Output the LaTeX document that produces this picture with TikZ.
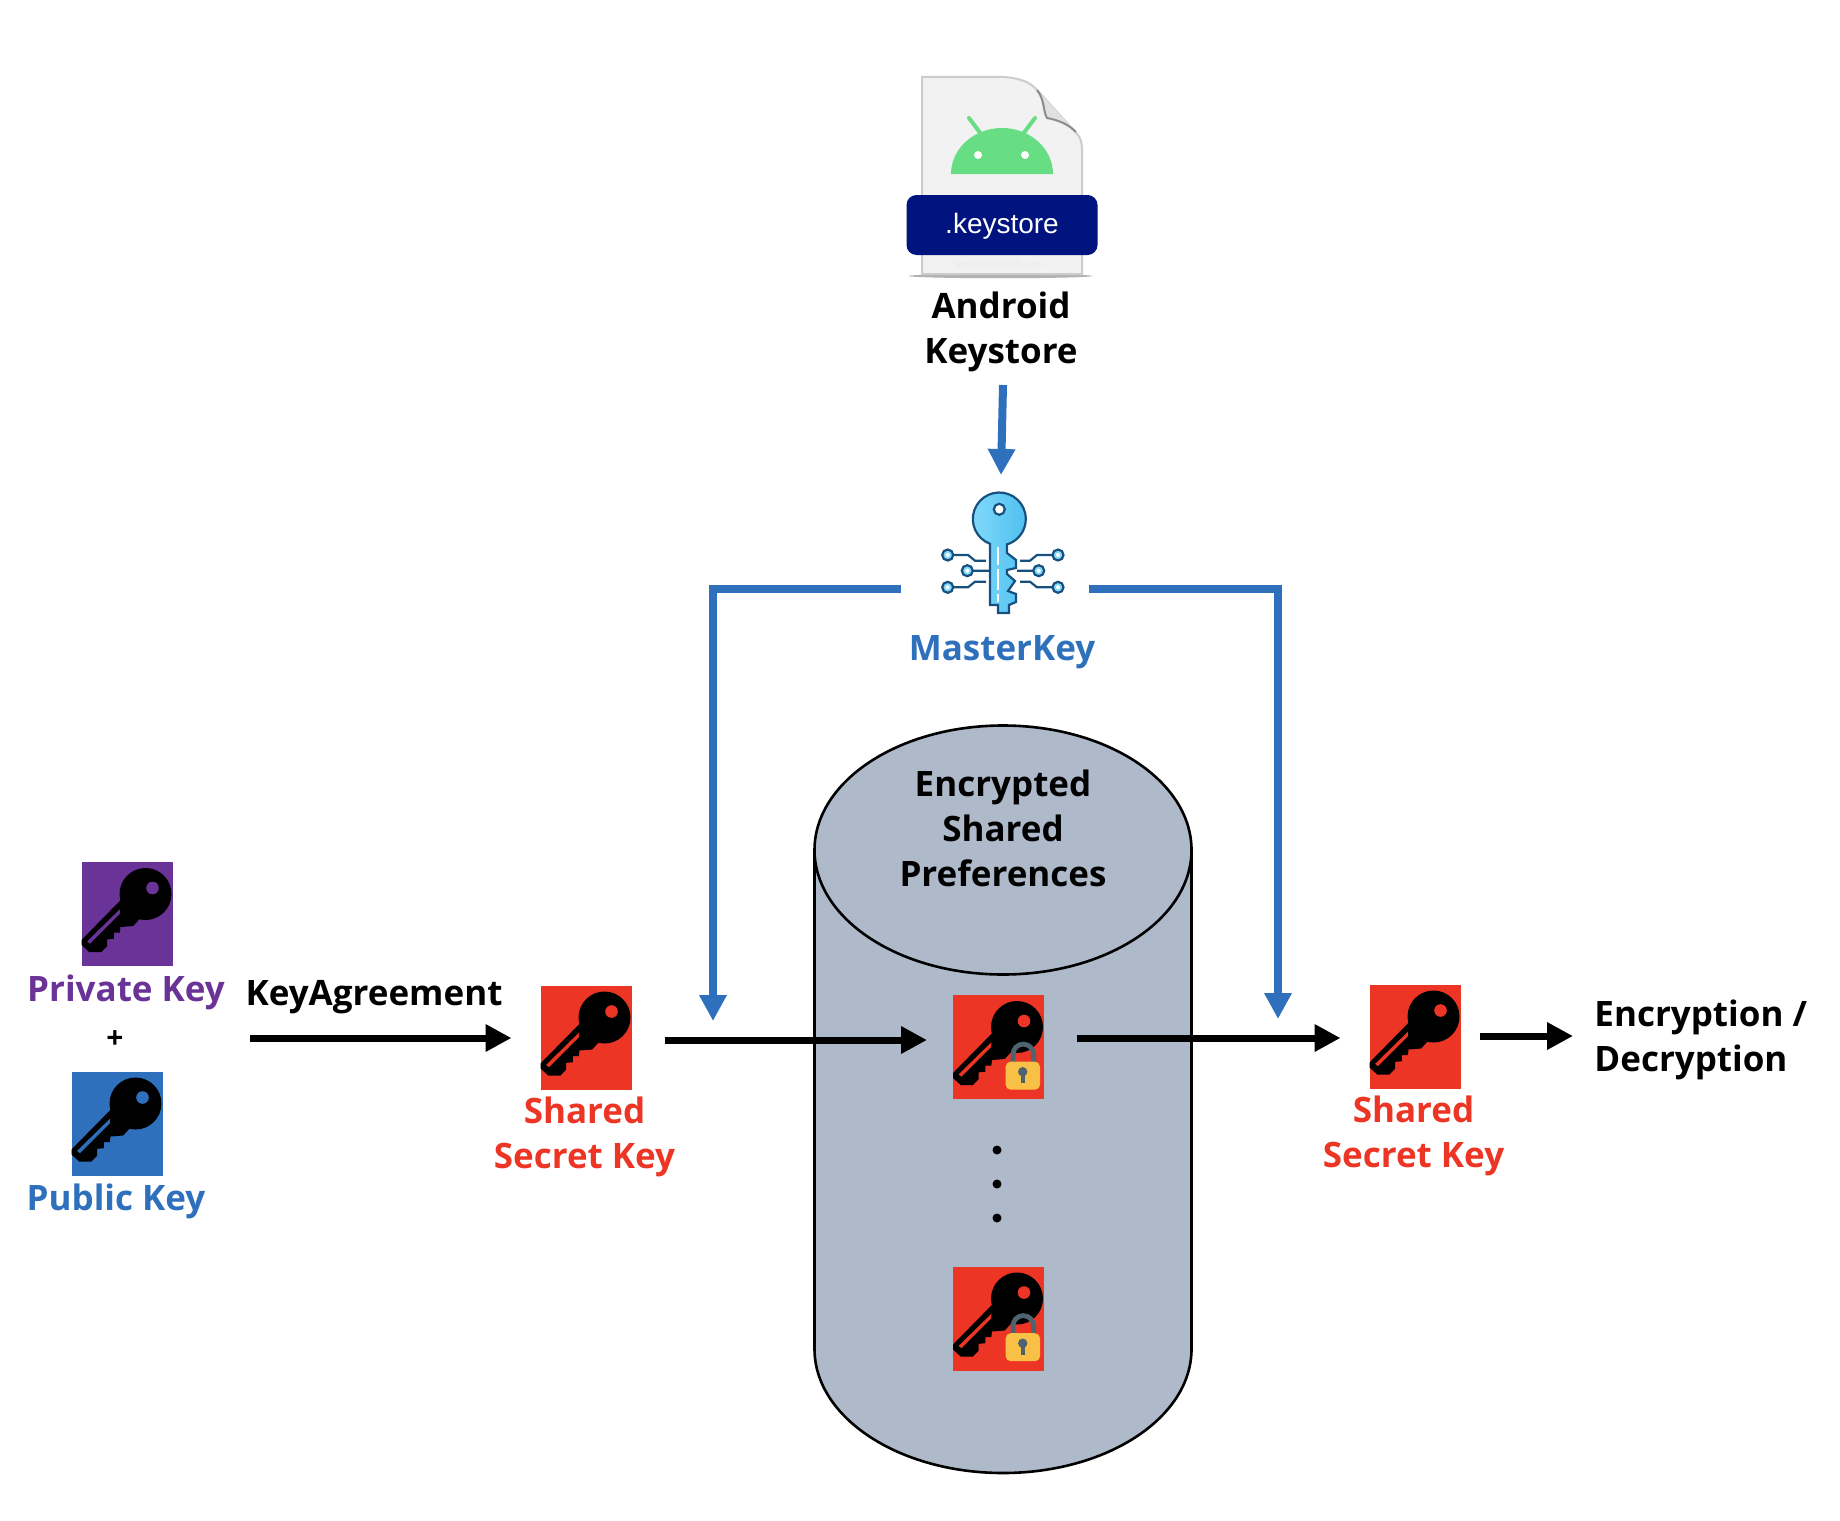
\documentclass[tikz,border=0pt]{standalone}
\usepackage{fontspec}
\setmainfont{Open Sans}
\newfontfamily\arialfont{Liberation Sans}
\usetikzlibrary{arrows.meta}
\definecolor{keyred}{HTML}{EC3524}
\definecolor{keypurple}{HTML}{6A3398}
\definecolor{keyblue}{HTML}{2F70BD}
\definecolor{cyl}{HTML}{AEB9C9}
\definecolor{navy}{HTML}{00137F}
\definecolor{droid}{HTML}{68DE84}
\definecolor{mkline}{HTML}{17507E}
\definecolor{mklight}{HTML}{84DAFA}
\definecolor{mkdeep}{HTML}{4CBFF0}
\definecolor{lockbody}{HTML}{F8C146}
\definecolor{lockdark}{HTML}{4D6470}
\tikzset{
  x=0.5pt,y=-0.5pt,
  lbl/.style={font=\bfseries\fontsize{17.5}{22.5}\selectfont,align=center,inner sep=0pt},
  keybox/.style={draw=none,minimum width=45.5pt,minimum height=52pt,inner sep=0pt,outer sep=0pt},
  blackarrow/.style={draw=black,line width=3.5pt,-{Triangle[length=13pt,width=13pt]}},
  bluearrow/.style={draw=keyblue,line width=4pt,-{Triangle[length=13pt,width=13pt]}},
  pics/keyglyph/.style={code={
    \fill[black] (64,32) circle[radius=26];
    \fill[black] (39,38.3)--(0,78)--(0,83)--(7.7,90)--(20,90)--(25.7,84)--(25.7,77.3)--(32.3,76.7)--(32.3,70.7)--(38.3,70.7)--(39,65)--(51.7,64)--(58.3,56.7)--cycle;
    \fill[#1] (71,26) circle[radius=6.3];
    \fill[#1] (38.3,47.3)--(38.3,51.7)--(8.3,81.7)--(5.7,79.3)--cycle;
  }},
  pics/lockglyph/.style={code={
    \draw[lockdark,line width=2.4pt] (60,70)--(60,59.4) arc[start angle=180,end angle=360,radius=10.3]--(80.6,70);
    \fill[lockbody,rounded corners=2.5pt] (52.7,66.7) rectangle (87,94.7);
    \fill[lockdark] (69.7,76.7) circle[radius=4.7];
    \fill[lockdark] (67.5,78) rectangle (72,88);
  }},
  pics/circuitdot/.style={code={
    \fill[white] (0,0) circle[radius=5.5];
    \draw[mkline,line width=1.1pt,fill=mklight] (0,0) circle[radius=5.5];
    \fill[white] (0,0) circle[radius=2];
  }},
}
\begin{document}
\begin{tikzpicture}
\useasboundingbox (0,0) rectangle (1840,1520);
% cylinder
\draw[black,line width=1.3pt,fill=cyl] (814.5,850) -- (814.5,1349) arc[start angle=180,end angle=0,x radius=188.5,y radius=124] -- (1191.5,850);
\draw[black,line width=1.3pt,fill=cyl] (1003,850) ellipse[x radius=188.5,y radius=124.5];
\node[lbl] (esp) at (1003,828.5) {Encrypted\\Shared\\Preferences};
% keystore icon
\fill[black!30] (1000.5,276) ellipse[x radius=92,y radius=2.2];
\draw[black!20,line width=1pt,fill=black!5] (922,77) -- (1003,77) .. controls (1020,78) and (1030,82) .. (1037,90) -- (1078,135) .. controls (1081,139) and (1082,144) .. (1082,150) -- (1082,274) -- (922,274) -- cycle;
\fill[black!12] (1037,90) .. controls (1045,100) and (1043,112) .. (1047,118) .. controls (1058,120) and (1068,124) .. (1076,132) -- cycle;
\draw[black!45,line width=1pt] (1037,90) .. controls (1045,100) and (1043,112) .. (1047,118) .. controls (1058,120) and (1068,124) .. (1076,132);
\fill[droid] (951,174) arc[start angle=180,end angle=360,x radius=51,y radius=46] -- cycle;
\draw[droid,line width=2pt,line cap=round] (969,118)--(981,134) (1035,118)--(1023,134);
\fill[white] (978,155) circle[radius=4] (1025,155) circle[radius=4];
\node[text=black!8,font=\arialfont\fontsize{4.8}{6}\selectfont,inner sep=0pt] (wm) at (999,264) {www.FileProInfo.com};
\node[fill=navy,draw=none,rounded corners=5pt,minimum width=95.5pt,minimum height=30pt,inner sep=0pt] (ks) at (1002,225) {};
\node[text=white,font=\arialfont\fontsize{14}{16}\selectfont,inner sep=0pt] (kst) at (1002,226) {.keystore};
\node[lbl] (android) at (1001,331.5) {Android\\Keystore};
% master key icon
\path[left color=mklight,right color=mkdeep,draw=mkline,line width=1.1pt]
  (990,543.8) arc[start angle=110.6,end angle=433.1,radius=26.5] -- (1007,553)--(1016,560)--(1016,568)--(1007,570)--(1007,574)--(1015,581)--(1008,591)--(1016,594)--(1016,602)--(1009,605)--(1009,613)--(998,613)--(998,605)--(990,605)--cycle;
\draw[white,line width=1.1pt,fill=white] (999.3,509.3) circle[radius=5];
\draw[mkline,line width=1.1pt] (999.3,509.3) circle[radius=5.5];
\draw[white,line width=0.8pt] (998,547)--(998,565) (998,569)--(998,590) (998,594)--(998,602);
\draw[mkline,line width=1.1pt]
  (953,555)--(968,555)--(975,560.7)--(986,560.7)
  (973,570.7)--(989,570.7)
  (953,587.3)--(968,587.3)--(975,581.7)--(986,581.7)
  (1052.7,555)--(1037,555)--(1030,560.7)--(1020,560.7)
  (1033,570.7)--(1017,570.7)
  (1052.7,587.3)--(1037,587.3)--(1030,581.7)--(1020,581.7);
\pic at (947.7,555) {circuitdot};
\pic at (967.3,570.7) {circuitdot};
\pic at (947.7,587.3) {circuitdot};
\pic at (1058,555) {circuitdot};
\pic at (1038.7,570.7) {circuitdot};
\pic at (1058,587.3) {circuitdot};
\node[lbl,text=keyblue] (mk) at (1002,652) {MasterKey};
% key squares
\node[keybox,fill=keypurple] (priv) at (127,914) {};
\pic at (priv.north west) {keyglyph=keypurple};
\node[keybox,fill=keyblue] (pub) at (117,1123.5) {};
\pic at (pub.north west) {keyglyph=keyblue};
\node[keybox,fill=keyred] (shared1) at (586,1037.5) {};
\pic at (shared1.north west) {keyglyph=keyred};
\node[keybox,fill=keyred] (lock1) at (998.5,1047) {};
\pic at (lock1.north west) {keyglyph=keyred};
\pic at (lock1.north west) {lockglyph};
\node[keybox,fill=keyred] (lock2) at (998.5,1318.5) {};
\pic at (lock2.north west) {keyglyph=keyred};
\pic at (lock2.north west) {lockglyph};
\node[keybox,fill=keyred] (shared2) at (1415,1036.5) {};
\pic at (shared2.north west) {keyglyph=keyred};
% labels
\node[lbl,text=keypurple] (privl) at (126,992) {Private Key};
\node[lbl,font=\bfseries\fontsize{15}{18}\selectfont] (plus) at (115,1040) {+};
\node[lbl,text=keyblue] (publ) at (116,1201) {Public Key};
\node[lbl] (ka) at (374,997) {KeyAgreement};
\node[lbl,text=keyred] (s1l) at (584.5,1137) {Shared\\Secret Key};
\node[lbl,text=keyred] (s2l) at (1413.5,1136) {Shared\\Secret Key};
\node[lbl,align=left,anchor=west] (enc) at (1594,1040) {Encryption /\\Decryption};
% dots
\fill[black] (997,1150) circle[radius=4.5] (997,1184) circle[radius=4.5] (997,1218) circle[radius=4.5];
% connector ends
\coordinate (kastart) at (250,1038);
\coordinate (ksout) at (1003,385);
\coordinate (mkin) at (1001,475);
\coordinate (mkleft) at (901,589);
\coordinate (cornerl) at (713,589);
\coordinate (downl) at (713,1021);
\coordinate (mkright) at (1089,589);
\coordinate (cornerr) at (1278,589);
\coordinate (downr) at (1278,1019);
% connectors
\draw[blackarrow] (kastart) -- ([xshift=-14.5pt,yshift=-0.25pt]shared1.west);
\draw[blackarrow] ([xshift=16.5pt,yshift=-1.25pt]shared1.east) -- ([xshift=-13pt,yshift=3.5pt]lock1.west);
\draw[blackarrow] ([xshift=16.5pt,yshift=4.5pt]lock1.east) -- ([xshift=-14.5pt,yshift=-0.75pt]shared2.west);
\draw[blackarrow] ([xshift=9.5pt,yshift=0.25pt]shared2.east) -- ([xshift=-10.5pt,yshift=2pt]enc.west);
\draw[bluearrow] (ksout) -- (mkin);
\draw[bluearrow] (mkleft) -- (cornerl) -- (downl);
\draw[bluearrow] (mkright) -- (cornerr) -- (downr);
\end{tikzpicture}
\end{document}
